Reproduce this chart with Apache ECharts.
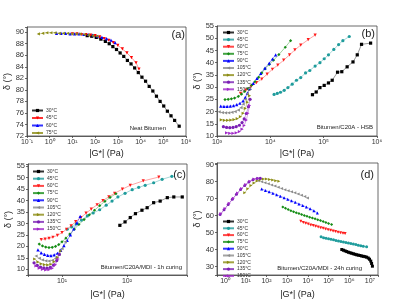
<!DOCTYPE html>
<html>
<head>
<meta charset="utf-8">
<script src="https://cdn.jsdelivr.net/npm/echarts@6/dist/echarts.min.js"></script>
<style>html,body{margin:0;padding:0;background:#fff}#chart{width:419px;height:304px}</style>
</head>
<body>
<div id="chart"></div>
<script>
// temperatures in each panel
const tempsA = ['30°C', '45°C', '60°C', '75°C'];
const tempsB = ['30°C', '45°C', '60°C', '75°C', '90°C', '105°C', '120°C', '135°C', '150°C'];

// log10 |G*| (Pa) and phase angle (deg)
// (a) Neat bitumen
const aLogG = [
	[1.65, 1.85, 2.05, 2.25, 2.45, 2.62, 2.78, 2.94, 3.10, 3.26, 3.42, 3.58, 3.74, 3.90, 4.06, 4.22, 4.38, 4.54, 4.70, 4.86, 5.02, 5.18, 5.34, 5.50, 5.70],
	[1.0, 1.2, 1.4, 1.6, 1.8, 2.0, 2.2, 2.4, 2.6, 2.8, 3.0, 3.2, 3.4, 3.6, 3.8, 3.93],
	[0.3, 0.5, 0.7, 0.9, 1.1, 1.3, 1.5, 1.7, 1.9, 2.1, 2.3, 2.5, 2.7, 2.88],
	[-0.50, -0.31, -0.13, 0.05, 0.23, 0.42, 0.60, 0.79, 0.97, 1.16, 1.33, 1.52, 1.70, 1.89, 2.07]
];
const aDelta = [
	[89.4, 89.3, 89.1, 88.8, 88.4, 88.0, 87.5, 87.0, 86.4, 85.8, 85.1, 84.5, 83.8, 83.0, 82.2, 81.5, 80.6, 79.8, 78.9, 78.0, 77.2, 76.3, 75.5, 74.7, 73.7],
	[89.7, 89.7, 89.6, 89.6, 89.5, 89.4, 89.2, 88.9, 88.6, 88.2, 87.7, 87.1, 86.4, 85.6, 84.7, 83.6],
	[89.8, 89.8, 89.8, 89.7, 89.7, 89.7, 89.6, 89.6, 89.5, 89.3, 89.1, 88.9, 88.6, 88.2],
	[89.7, 89.8, 89.9, 89.9, 89.9, 89.8, 89.8, 89.8, 89.7, 89.7, 89.7, 89.6, 89.5, 89.4, 89.3]
];

// (b) Bitumen/C20A - HSB
const bLogG = [
	[4.79, 4.86, 4.93, 5.01, 5.09, 5.16, 5.26, 5.34, 5.44, 5.55, 5.63, 5.71, 5.88],
	[4.07, 4.13, 4.19, 4.26, 4.33, 4.41, 4.49, 4.57, 4.66, 4.74, 4.84, 4.93, 5.01, 5.09, 5.19, 5.28, 5.36, 5.48],
	[3.44, 3.54, 3.64, 3.74, 3.84, 3.94, 4.04, 4.14, 4.25, 4.36, 4.46, 4.57, 4.71, 4.84],
	[3.15, 3.21, 3.27, 3.33, 3.40, 3.46, 3.52, 3.58, 3.65, 3.71, 3.78, 3.84, 3.90, 3.98, 4.06, 4.16, 4.28, 4.38],
	[3.07, 3.13, 3.19, 3.25, 3.31, 3.37, 3.43, 3.49, 3.53, 3.57, 3.62, 3.68, 3.75, 3.82, 3.90, 3.98, 4.04, 4.10],
	[3.04, 3.10, 3.16, 3.22, 3.28, 3.34, 3.40, 3.45, 3.49, 3.53, 3.57, 3.61],
	[3.08, 3.14, 3.20, 3.26, 3.32, 3.38, 3.44, 3.49, 3.53, 3.57, 3.61],
	[3.12, 3.18, 3.24, 3.30, 3.36, 3.42, 3.47, 3.51, 3.55, 3.59, 3.62],
	[3.18, 3.24, 3.30, 3.36, 3.42, 3.47, 3.51, 3.55, 3.58, 3.61]
];
const bDelta = [
	[26.9, 28.0, 29.8, 30.7, 31.7, 32.8, 36.1, 36.3, 38.3, 40.3, 43.2, 47.5, 48.0],
	[27.0, 27.4, 27.9, 28.7, 29.8, 31.2, 32.8, 33.9, 35.8, 36.8, 38.6, 40.0, 41.6, 43.2, 45.4, 47.4, 49.0, 50.7],
	[27.4, 28.8, 30.3, 31.8, 33.3, 35.3, 37.3, 39.0, 41.0, 43.2, 45.2, 47.2, 49.4, 51.3],
	[24.9, 25.0, 25.2, 25.5, 26.2, 27.1, 28.2, 29.4, 30.8, 32.2, 34.0, 35.8, 37.5, 39.3, 41.0, 43.3, 46.3, 49.0],
	[22.2, 22.1, 22.1, 22.2, 22.4, 22.8, 23.4, 24.4, 25.8, 27.5, 29.5, 31.5, 33.6, 35.6, 37.8, 39.8, 41.5, 43.2],
	[19.9, 19.6, 19.5, 19.5, 19.7, 20.0, 20.6, 21.6, 23.0, 25.0, 27.3, 29.5],
	[16.6, 16.4, 16.4, 16.5, 16.7, 17.1, 17.9, 19.3, 21.3, 23.8, 26.5],
	[13.8, 13.5, 13.4, 13.5, 13.8, 14.4, 15.5, 17.0, 19.2, 22.0, 25.0],
	[11.3, 11.1, 11.1, 11.3, 11.8, 12.8, 14.3, 16.5, 19.3, 22.5]
];

// (c) Bitumen/C20A/MDI - 1h curing
const cLogG = [
	[1.89, 1.97, 2.05, 2.13, 2.23, 2.31, 2.41, 2.51, 2.62, 2.72, 2.85],
	[1.08, 1.15, 1.22, 1.30, 1.39, 1.48, 1.58, 1.68, 1.77, 1.86, 1.97, 2.08, 2.18, 2.28, 2.41, 2.54, 2.69],
	[0.68, 0.74, 0.80, 0.86, 0.93, 1.00, 1.07, 1.14, 1.21, 1.29, 1.37, 1.45, 1.54, 1.63, 1.72, 1.81, 1.93, 2.05, 2.25, 2.49],
	[0.65, 0.70, 0.75, 0.80, 0.85, 0.90, 0.95, 1.00, 1.06, 1.12, 1.19, 1.26, 1.34, 1.42, 1.50, 1.58, 1.66, 1.74, 1.83],
	[0.63, 0.68, 0.73, 0.78, 0.83, 0.88, 0.93, 0.98, 1.03, 1.08, 1.13, 1.18, 1.23, 1.28],
	[0.60, 0.65, 0.70, 0.75, 0.80, 0.85, 0.90, 0.95, 1.00, 1.05],
	[0.58, 0.63, 0.68, 0.73, 0.78, 0.83, 0.88, 0.93, 0.98],
	[0.57, 0.62, 0.67, 0.72, 0.77, 0.82, 0.87, 0.92, 0.96],
	[0.60, 0.65, 0.70, 0.75, 0.80, 0.85, 0.90, 0.94]
];
const cDelta = [
	[29.2, 30.7, 32.6, 34.3, 35.8, 36.9, 39.1, 39.8, 41.3, 41.6, 41.6],
	[27.5, 28.5, 29.8, 31.5, 33.3, 34.6, 36.0, 38.0, 39.8, 41.6, 43.2, 44.8, 45.8, 46.7, 47.8, 49.3, 50.6],
	[23.0, 23.2, 23.5, 24.0, 24.8, 26.0, 27.5, 29.0, 30.8, 32.6, 34.5, 36.3, 38.2, 40.0, 41.7, 43.2, 45.0, 46.7, 48.6, 50.3],
	[21.0, 20.2, 19.7, 19.5, 19.6, 20.0, 20.8, 22.0, 23.6, 25.4, 27.5, 29.6, 31.7, 33.8, 35.8, 37.8, 39.7, 41.4, 43.0],
	[18.5, 17.2, 16.5, 16.1, 16.0, 16.3, 17.0, 18.3, 20.3, 22.6, 25.0, 27.6, 30.3, 33.1],
	[15.8, 14.8, 14.1, 13.7, 13.6, 13.9, 14.8, 16.5, 19.0, 22.0],
	[14.5, 13.2, 12.4, 12.0, 11.9, 12.2, 13.3, 15.2, 18.0],
	[12.8, 11.7, 11.0, 10.6, 10.5, 10.8, 11.8, 13.8, 16.5],
	[11.5, 10.5, 10.0, 9.7, 9.8, 10.4, 12.0, 14.5]
];

// (d) Bitumen/C20A/MDI - 24h curing
const dLogG = [
	[5.64, 5.72, 5.80, 5.88, 5.96, 6.04, 6.12, 6.20, 6.28, 6.36, 6.44, 6.52, 6.60, 6.68, 6.76, 6.84, 6.92, 6.98, 7.04, 7.08, 7.12],
	[4.64, 4.76, 4.88, 5.00, 5.12, 5.24, 5.36, 5.48, 5.60, 5.72, 5.84, 5.96, 6.08, 6.20, 6.32, 6.44, 6.56, 6.68, 6.84],
	[3.66, 3.78, 3.90, 4.02, 4.14, 4.26, 4.38, 4.50, 4.62, 4.74, 4.86, 4.98, 5.10, 5.22, 5.34, 5.46, 5.58, 5.70, 5.80],
	[2.79, 2.92, 3.05, 3.18, 3.31, 3.44, 3.57, 3.70, 3.83, 3.96, 4.09, 4.22, 4.35, 4.48, 4.61, 4.74, 4.87, 5.00, 5.15],
	[1.77, 1.95, 2.13, 2.31, 2.49, 2.67, 2.85, 3.03, 3.21, 3.39, 3.57, 3.75, 3.93, 4.11, 4.29, 4.46],
	[1.61, 1.77, 1.93, 2.09, 2.25, 2.41, 2.57, 2.73, 2.89, 3.05, 3.21, 3.37, 3.53, 3.69, 3.85, 3.98],
	[0.95, 1.10, 1.25, 1.40, 1.55, 1.70, 1.85, 2.00, 2.15, 2.30, 2.45, 2.60],
	[-0.24, -0.05, 0.15, 0.35, 0.55, 0.75, 0.95, 1.15, 1.35, 1.55, 1.70],
	[-0.20, 0.00, 0.20, 0.40, 0.60, 0.80, 1.00, 1.20, 1.40, 1.60]
];
const dDelta = [
	[40.0, 39.6, 39.2, 38.8, 38.4, 38.1, 37.8, 37.5, 37.2, 36.9, 36.7, 36.5, 36.2, 36.0, 35.8, 35.5, 35.0, 34.3, 33.2, 31.8, 30.2],
	[47.5, 47.0, 46.6, 46.3, 46.0, 45.7, 45.4, 45.0, 44.7, 44.4, 44.1, 43.8, 43.5, 43.2, 42.9, 42.6, 42.3, 42.0, 41.6],
	[56.7, 56.0, 55.5, 55.0, 54.5, 54.1, 53.7, 53.3, 52.9, 52.5, 52.1, 51.7, 51.3, 51.0, 50.6, 50.2, 49.9, 49.6, 49.4],
	[65.1, 64.3, 63.6, 62.9, 62.3, 61.7, 61.2, 60.6, 60.1, 59.6, 59.1, 58.6, 58.1, 57.6, 57.1, 56.5, 55.9, 55.4, 54.7],
	[75.7, 74.8, 74.0, 73.2, 72.3, 71.4, 70.5, 69.6, 68.7, 67.8, 66.9, 66.0, 65.0, 64.0, 62.9, 61.6],
	[80.6, 80.0, 79.4, 78.8, 78.1, 77.4, 76.7, 76.0, 75.3, 74.6, 74.1, 73.5, 72.8, 72.0, 71.2, 70.4],
	[73.5, 75.8, 77.7, 79.2, 80.4, 81.2, 81.6, 81.6, 81.3, 81.0, 80.6, 80.3],
	[60.6, 63.4, 66.5, 69.6, 72.6, 75.4, 77.8, 79.8, 81.2, 81.9, 82.0],
	[61.2, 64.2, 67.3, 70.3, 73.3, 76.0, 78.4, 80.3, 81.5, 82.0]
];

// marker styles
const styleA = [
	{ color: '#000000', symbol: 'rect', rot: 0 },
	{ color: '#ff0000', symbol: 'triangle', rot: 180 },
	{ color: '#0000ff', symbol: 'triangle', rot: 0 },
	{ color: '#8c8c14', symbol: 'triangle', rot: 90 }
];
const styleB = [
	{ color: '#000000', symbol: 'rect', rot: 0 },
	{ color: '#1f9c9c', symbol: 'circle', rot: 0 },
	{ color: '#ff1a1a', symbol: 'triangle', rot: 180 },
	{ color: '#148c14', symbol: 'diamond', rot: 0 },
	{ color: '#0000ff', symbol: 'triangle', rot: 0 },
	{ color: '#8c8c8c', symbol: 'triangle', rot: 90 },
	{ color: '#8c8c14', symbol: 'triangle', rot: -90 },
	{ color: '#7a1fb4', symbol: 'circle', rot: 0 },
	{ color: '#a028c8', symbol: 'triangle', rot: -90 }
];

const FONT = 'Liberation Sans, Arial, sans-serif';
const sup = { '-': '⁻', '0': '⁰', '1': '¹', '2': '²', '3': '³', '4': '⁴', '5': '⁵', '6': '⁶', '7': '⁷', '8': '⁸', '9': '⁹' };

function powLabel(v) {
	if (Math.abs(v - Math.round(v)) > 1e-6) return '';
	return '10' + String(Math.round(v)).split('').map(c => sup[c]).join('');
}

function xAxisFor(gi, min, max, split, gap) {
	return {
		gridIndex: gi, type: 'value', min: min, max: max, splitNumber: split,
		name: '|G*| (Pa)', nameLocation: 'middle', nameGap: gap,
		nameTextStyle: { fontSize: 9, color: '#222', fontFamily: FONT },
		axisLine: { onZero: false, lineStyle: { color: '#444', width: 0.8 } },
		axisTick: { length: 2, lineStyle: { color: '#444', width: 0.8 } },
		axisLabel: { fontSize: 7, color: '#333', margin: 3, fontFamily: FONT, formatter: powLabel },
		splitLine: { show: false }
	};
}

function yAxisFor(gi, min, max, split, step, gap) {
	return {
		gridIndex: gi, type: 'value', min: min, max: max, splitNumber: split,
		name: 'δ (°)', nameLocation: 'middle', nameGap: gap,
		nameTextStyle: { fontSize: 9, color: '#222', fontFamily: FONT },
		axisLine: { onZero: false, lineStyle: { color: '#444', width: 0.8 } },
		axisTick: { length: 2, lineStyle: { color: '#444', width: 0.8 } },
		axisLabel: {
			fontSize: 7.5, color: '#333', margin: 3, fontFamily: FONT,
			formatter: v => (Math.abs(v / step - Math.round(v / step)) < 1e-6 ? String(Math.round(v)) : '')
		},
		splitLine: { show: false }
	};
}

var series = [];
function addPanel(key, gi, temps, logG, delta, styles, size) {
	temps.forEach((t, i) => {
		const st = styles[i];
		series.push({
			name: key + '#' + t,
			type: 'line',
			xAxisIndex: gi, yAxisIndex: gi,
			data: logG[i].map((x, j) => [x, delta[i][j]]),
			symbol: st.symbol, symbolRotate: st.rot, symbolSize: size,
			showAllSymbol: true,
			itemStyle: { color: st.color },
			lineStyle: { color: st.color, width: 0.5, opacity: 0.8 },
			silent: true, animation: false
		});
	});
}
addPanel('a', 0, tempsA, aLogG, aDelta, styleA, 3.2);
addPanel('b', 1, tempsB, bLogG, bDelta, styleB, 3.2);
addPanel('c', 2, tempsB, cLogG, cDelta, styleB, 3.2);
addPanel('d', 3, tempsB, dLogG, dDelta, styleB, 3);

function legendFor(key, temps, left, top, gap) {
	return {
		data: temps.map(t => key + '#' + t),
		orient: 'vertical', left: left, top: top,
		itemWidth: 11, itemHeight: 4, itemGap: gap, padding: 0,
		selectedMode: false,
		textStyle: { fontSize: 5, color: '#333', fontFamily: FONT, padding: [0, 0, 0, -2] },
		formatter: n => n.split('#')[1]
	};
}

var option = {
	backgroundColor: '#ffffff',
	animation: false,
	grid: [
		{ left: 27, top: 27, width: 159, height: 109, show: true, borderColor: '#444', borderWidth: 0.8 },
		{ left: 217, top: 26, width: 160, height: 110, show: true, borderColor: '#444', borderWidth: 0.8 },
		{ left: 28, top: 164, width: 159, height: 111, show: true, borderColor: '#444', borderWidth: 0.8 },
		{ left: 217, top: 163, width: 161, height: 112, show: true, borderColor: '#444', borderWidth: 0.8 }
	],
	xAxis: [
		xAxisFor(0, -1, 6, 7, 13),
		xAxisFor(1, 3, 6, 3, 13),
		xAxisFor(2, 0.477, 2.923, 2, 15),
		xAxisFor(3, -0.39, 7.39, 8, 15)
	],
	yAxis: [
		yAxisFor(0, 72, 90.9, 9, 2, 14),
		yAxisFor(1, 10, 55, 9, 5, 14),
		yAxisFor(2, 7.5, 56, 9, 5, 14),
		yAxisFor(3, 25, 91, 6, 10, 14)
	],
	legend: [
		legendFor('a', tempsA, 31, 108, 2.5),
		legendFor('b', tempsB, 222, 30, 2.1),
		legendFor('c', tempsB, 32, 169, 2.2),
		legendFor('d', tempsB, 222, 219, 1.8)
	],
	graphic: [
		{ type: 'text', x: 185, y: 35, style: { text: '(a)', fontSize: 11, fill: '#222', fontFamily: FONT, align: 'right', verticalAlign: 'middle' } },
		{ type: 'text', x: 166, y: 128, style: { text: 'Neat Bitumen', fontSize: 6, fill: '#222', fontFamily: FONT, align: 'right', verticalAlign: 'middle' } },
		{ type: 'text', x: 375, y: 34, style: { text: '(b)', fontSize: 11, fill: '#222', fontFamily: FONT, align: 'right', verticalAlign: 'middle' } },
		{ type: 'text', x: 373, y: 127, style: { text: 'Bitumen/C20A - HSB', fontSize: 6, fill: '#222', fontFamily: FONT, align: 'right', verticalAlign: 'middle' } },
		{ type: 'text', x: 186, y: 175, style: { text: '(c)', fontSize: 11, fill: '#222', fontFamily: FONT, align: 'right', verticalAlign: 'middle' } },
		{ type: 'text', x: 182, y: 267, style: { text: 'Bitumen/C20A/MDI - 1h curing', fontSize: 6, fill: '#222', fontFamily: FONT, align: 'right', verticalAlign: 'middle' } },
		{ type: 'text', x: 374, y: 175, style: { text: '(d)', fontSize: 11, fill: '#222', fontFamily: FONT, align: 'right', verticalAlign: 'middle' } },
		{ type: 'text', x: 362, y: 268, style: { text: 'Bitumen/C20A/MDI - 24h curing', fontSize: 6, fill: '#222', fontFamily: FONT, align: 'right', verticalAlign: 'middle' } }
	],
	series: series
};

var myChart = echarts.init(document.getElementById('chart'), null, { renderer: 'canvas' });
myChart.setOption(option);
</script>
</body>
</html>
